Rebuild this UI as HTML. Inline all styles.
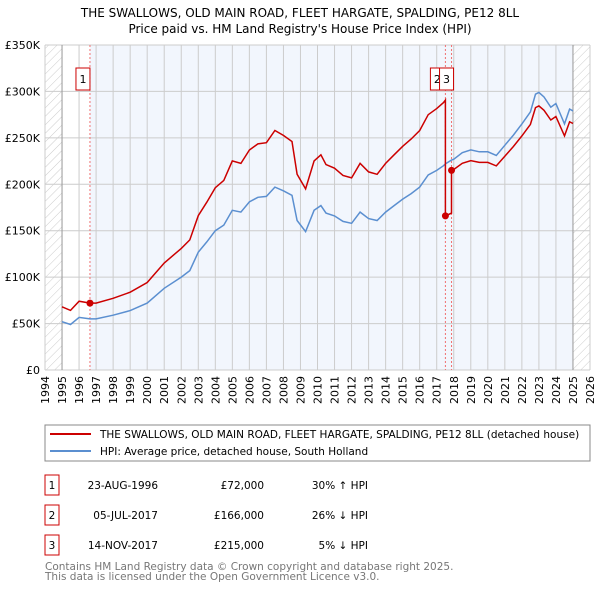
<!DOCTYPE html>
<html><head><meta charset="utf-8"><style>
body{margin:0;background:#fff;font-family:"DejaVu Sans","Liberation Sans",sans-serif;}
svg text{font-family:"DejaVu Sans","Liberation Sans",sans-serif;}
</style></head><body>
<svg id="c" width="600" height="590" viewBox="0 0 600 590" xmlns="http://www.w3.org/2000/svg">
<defs><pattern id="hatch" width="6" height="6" patternUnits="userSpaceOnUse" patternTransform="rotate(45)"><line x1="0" y1="0" x2="0" y2="6" stroke="#ccc" stroke-width="1"/></pattern></defs>
<text x="300" y="17" text-anchor="middle" font-size="12">THE SWALLOWS, OLD MAIN ROAD, FLEET HARGATE, SPALDING, PE12 8LL</text>
<text x="300" y="33" text-anchor="middle" font-size="12">Price paid vs. HM Land Registry's House Price Index (HPI)</text>
<g id="plot"></g>
<rect x="45" y="425" width="545" height="36" fill="#fff" stroke="#888"/>
<line x1="50" y1="434" x2="91" y2="434" stroke="#cc0000" stroke-width="2"/>
<text x="100" y="438" font-size="10.5">THE SWALLOWS, OLD MAIN ROAD, FLEET HARGATE, SPALDING, PE12 8LL (detached house)</text>
<line x1="50" y1="451" x2="91" y2="451" stroke="#5b8fd0" stroke-width="2"/>
<text x="100" y="455" font-size="10.5">HPI: Average price, detached house, South Holland</text>
<g font-size="10.5" id="table"></g>
<text x="45" y="570" font-size="10.5" fill="#777">Contains HM Land Registry data © Crown copyright and database right 2025.</text>
<text x="45" y="580" font-size="10.5" fill="#777">This data is licensed under the Open Government Licence v3.0.</text>
</svg>
<script>
const hpiYears=[1995,1995.5,1996,1996.64,1997,1998,1999,2000,2001,2002,2002.5,2003,2003.5,2004,2004.5,2005,2005.5,2006,2006.5,2007,2007.5,2008,2008.5,2008.8,2009.3,2009.8,2010.2,2010.5,2011,2011.5,2012,2012.5,2013,2013.5,2014,2014.5,2015,2015.5,2016,2016.5,2017,2017.4,2017.51,2017.87,2018,2018.5,2019,2019.5,2020,2020.5,2021,2021.5,2022,2022.5,2022.8,2023,2023.3,2023.7,2024,2024.5,2024.8,2025];
const hpiValues=[52,49,56.6,55,55,59,64,72,88,100,107,127,138,150,156,172,170,181,186,187,197,193,188,161,149,172,177,169,166,160,158,170,163,161,170,177,184,190,197,210,215,220,222,226,227,234,237,235,235,231,242,253,265,278,297,299,294,283,287,265,281,279];
const saleYears=[1996.64,2017.51,2017.87];
const salePrices=[72,166,215];
const saleLabels=["1","2","3"];
const saleDates=["23-AUG-1996","05-JUL-2017","14-NOV-2017"];
const salePriceText=["£72,000","£166,000","£215,000"];
const saleDiff=["30% ↑ HPI","26% ↓ HPI","5% ↓ HPI"];
const yTicks=[0,50,100,150,200,250,300,350];
const xTicks=[1994,1995,1996,1997,1998,1999,2000,2001,2002,2003,2004,2005,2006,2007,2008,2009,2010,2011,2012,2013,2014,2015,2016,2017,2018,2019,2020,2021,2022,2023,2024,2025,2026];
const NS="http://www.w3.org/2000/svg";
const X=y=>45+(y-1994)*(545/32);
const Y=v=>370-v*(325/350);
const g=document.getElementById('plot');
function mk(t,a,p){const e=document.createElementNS(NS,t);for(const k in a)e.setAttribute(k,a[k]);(p||g).appendChild(e);return e;}
function hpiAt(yr){for(let i=0;i<hpiYears.length-1;i++){if(yr<=hpiYears[i+1]){const f=(yr-hpiYears[i])/(hpiYears[i+1]-hpiYears[i]);return hpiValues[i]+f*(hpiValues[i+1]-hpiValues[i]);}}return hpiValues[hpiValues.length-1];}
let e;
e=mk('rect',{x:X(1994),y:Y(350),width:X(2026)-X(1994),height:Y(0)-Y(350),fill:'#fff'});

e=mk('rect',{x:X(saleYears[0]),y:Y(350),width:X(2025)-X(saleYears[0]),height:Y(0)-Y(350),fill:'#f2f6fd'});

e=mk('rect',{x:X(1994),y:Y(350),width:X(1995)-X(1994),height:Y(0)-Y(350),fill:'url(#hatch)'});

e=mk('rect',{x:X(2025),y:Y(350),width:X(2026)-X(2025),height:Y(0)-Y(350),fill:'url(#hatch)'});

xTicks.forEach(t=>{
 e=mk('line',{x1:X(t),x2:X(t),y1:Y(350),y2:Y(0),stroke:'#ccc','stroke-width':1});
 
 e=mk('text',{x:0,y:0,'font-size':11,'text-anchor':'end',transform:`translate(${X(t)+4},${Y(0)+6}) rotate(-90)`});
 e.textContent=t;
 
});
yTicks.forEach(t=>{
 e=mk('line',{x1:X(1994),x2:X(2026),y1:Y(t),y2:Y(t),stroke:'#ccc','stroke-width':1});
 
 e=mk('text',{x:40,y:Y(t)+4,'font-size':11,'text-anchor':'end'});
 e.textContent=t===0?'£0':'£'+t+'K';
 
});
e=mk('line',{x1:X(1995),x2:X(1995),y1:Y(350),y2:Y(0),stroke:'#999'});

e=mk('line',{x1:X(2025),x2:X(2025),y1:Y(350),y2:Y(0),stroke:'#999'});

saleYears.forEach((s,i)=>{
 e=mk('line',{x1:X(s),x2:X(s),y1:Y(350),y2:Y(0),stroke:'#f07070','stroke-dasharray':'2,2'});
 
});
// HPI line
let d=hpiYears.map((yr,i)=>(i?'L':'M')+X(yr).toFixed(1)+','+Y(hpiValues[i]).toFixed(1)).join('');
e=mk('path',{d:d,fill:'none',stroke:'#5b8fd0','stroke-width':1.5});

// property line: HPI indexed from each sale
const ratios=saleYears.map((s,i)=>salePrices[i]/hpiAt(s));
function ratioFor(yr){let r=ratios[0];for(let i=0;i<saleYears.length;i++){if(yr>=saleYears[i])r=ratios[i];}return r;}
let pts=[];
hpiYears.forEach((yr,i)=>{pts.push([yr,hpiValues[i]*ratioFor(yr)]);});
saleYears.forEach((s,i)=>{if(i>0)pts.push([s-0.0001,hpiAt(s)*ratios[i-1]]);pts.push([s,salePrices[i]]);});
pts.sort((a,b)=>a[0]-b[0]);
d=pts.map((p,i)=>(i?'L':'M')+X(p[0]).toFixed(1)+','+Y(p[1]).toFixed(1)).join('');
e=mk('path',{d:d,fill:'none',stroke:'#cc0000','stroke-width':1.5});

saleYears.forEach((s,i)=>{
 e=mk('circle',{cx:X(s),cy:Y(salePrices[i]),r:3.5,fill:'#cc0000'});
 
 const bx=i===1?X(s)-9:X(s)-8+(i===2?2:0);
 e=mk('rect',{x:bx-6,y:68,width:14,height:22,fill:'#fff',stroke:'#cc0000'});
 
 e=mk('text',{x:bx+1,y:83,'font-size':11,'text-anchor':'middle'});
 e.textContent=saleLabels[i];
 
});
const tb=document.getElementById('table');
saleYears.forEach((s,i)=>{
 const y=485+i*30;
 e=mk('rect',{x:45,y:y-10,width:14,height:20,fill:'#fff',stroke:'#cc0000'},tb);
 
 e=mk('text',{x:52,y:y+4,'text-anchor':'middle'},tb);e.textContent=saleLabels[i];
 
 e=mk('text',{x:158,y:y+4,'text-anchor':'end'},tb);e.textContent=saleDates[i];
 
 e=mk('text',{x:264,y:y+4,'text-anchor':'end'},tb);e.textContent=salePriceText[i];
 
 e=mk('text',{x:368,y:y+4,'text-anchor':'end'},tb);e.textContent=saleDiff[i];
 
});
</script>
</body></html>
